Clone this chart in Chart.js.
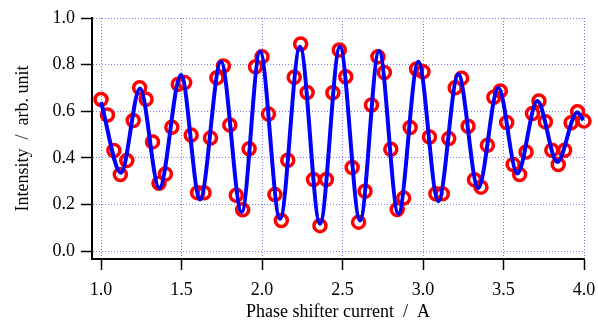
<!DOCTYPE html>
<html><head><meta charset="utf-8">
<script src="https://cdn.jsdelivr.net/npm/chart.js@4.4.1/dist/chart.umd.min.js"></script>
<style>html,body{margin:0;padding:0;background:#fff}#wrap{width:598px;height:324px;position:relative}</style>
</head><body><div id="wrap"><canvas id="c" width="598" height="324"></canvas></div>
<script>
// Measured data: phase shifter current (A) and intensity (arb. unit)
const current = [1.00,1.04,1.08,1.12,1.16,1.20,1.24,1.28,1.32,1.36,1.40,1.44,1.48,1.52,1.56,1.60,1.64,1.68,1.72,1.76,
  1.80,1.84,1.88,1.92,1.96,2.00,2.04,2.08,2.12,2.16,2.20,2.24,2.28,2.32,2.36,2.40,2.44,2.48,2.52,2.56,
  2.60,2.64,2.68,2.72,2.76,2.80,2.84,2.88,2.92,2.96,3.00,3.04,3.08,3.12,3.16,3.20,3.24,3.28,3.32,3.36,
  3.40,3.44,3.48,3.52,3.56,3.60,3.64,3.68,3.72,3.76,3.80,3.84,3.88,3.92,3.96,4.00];
const intensity = [0.651,0.584,0.432,0.329,0.389,0.561,0.701,0.652,0.469,0.292,0.331,0.532,0.716,0.723,0.498,0.251,0.251,0.486,0.744,0.794,
  0.541,0.240,0.178,0.440,0.791,0.834,0.588,0.243,0.132,0.390,0.746,0.889,0.681,0.308,0.110,0.308,0.680,0.863,0.748,0.359,
  0.125,0.257,0.627,0.834,0.766,0.437,0.179,0.228,0.531,0.781,0.770,0.490,0.247,0.247,0.483,0.701,0.742,0.536,0.307,0.275,
  0.455,0.660,0.687,0.552,0.372,0.329,0.426,0.591,0.644,0.555,0.433,0.372,0.433,0.551,0.598,0.558];
// Fit curve, read at its start, extrema and end
const fitCurrent = [1.000,1.124,1.242,1.362,1.497,1.615,1.745,1.874,1.988,2.112,2.236,2.360,2.484,2.609,2.727,2.847,2.971,3.095,3.219,3.343,3.468,3.586,3.710,3.834,3.958,3.996];
const fitIntensity = [0.640,0.337,0.698,0.271,0.756,0.222,0.813,0.168,0.856,0.139,0.877,0.118,0.877,0.132,0.859,0.161,0.813,0.215,0.759,0.271,0.701,0.333,0.644,0.383,0.595,0.562];
// Tick labels
const xTicks = [1.0,1.5,2.0,2.5,3.0,3.5,4.0];
const yTicks = [0.0,0.2,0.4,0.6,0.8,1.0];
const xTitle = 'Phase shifter current  /  A';
const yTitle = 'Intensity  /  arb. unit';

const serif = 'Liberation Serif';
const tickFont = {family: serif, size: 18};
const titleFont = {family: serif, size: 18};

new Chart(document.getElementById('c'), {
  type: 'line',
  data: {
    datasets: [
      {
        label: 'fit',
        data: fitCurrent.map((x, i) => ({x, y: fitIntensity[i]})),
        borderColor: '#0000ff',
        borderWidth: 4,
        pointRadius: 0,
        cubicInterpolationMode: 'monotone',
        fill: false,
        order: 0,
        clip: false
      },
      {
        label: 'data',
        data: current.map((x, i) => ({x, y: intensity[i]})),
        showLine: false,
        pointRadius: 6,
        pointBorderWidth: 3.5,
        pointBorderColor: '#ff0000',
        pointBackgroundColor: 'rgba(255,255,255,0)',
        order: 1,
        clip: false
      }
    ]
  },
  options: {
    responsive: false,
    animation: false,
    events: [],
    layout: {padding: {left: 0, top: 18, right: 14, bottom: 0}},
    plugins: {legend: {display: false}, tooltip: {enabled: false}},
    scales: {
      x: {
        type: 'linear',
        min: 0.944,
        max: 4.0,
        afterBuildTicks: s => { s.ticks = xTicks.map(v => ({value: v})); },
        afterFit: s => { s.height = 65; s.paddingLeft = 0; s.paddingRight = 0; },
        ticks: {callback: v => v.toFixed(1), font: tickFont, color: '#000', padding: 9, maxRotation: 0, autoSkip: false},
        grid: {color: '#7a7aff', lineWidth: 1, tickColor: '#000', tickLength: 11, tickWidth: 1.5},
        border: {color: '#000', width: 2, dash: [1, 2]},
        title: {display: true, text: xTitle, font: titleFont, color: '#000', padding: {top: 0, bottom: 1}}
      },
      y: {
        type: 'linear',
        min: -0.033,
        max: 1.0,
        afterBuildTicks: s => { s.ticks = yTicks.map(v => ({value: v})); },
        afterFit: s => { s.width = 92; s.paddingTop = 0; s.paddingBottom = 0; },
        ticks: {callback: v => v.toFixed(1), font: tickFont, color: '#000', padding: 6, autoSkip: false},
        grid: {color: '#7a7aff', lineWidth: 1, tickColor: '#000', tickLength: 11, tickWidth: 1.5},
        border: {color: '#000', width: 2, dash: [1, 2]},
        title: {display: true, text: yTitle, font: titleFont, color: '#000', padding: {top: 12, bottom: 0}}
      }
    }
  }
});
</script>
</body></html>
